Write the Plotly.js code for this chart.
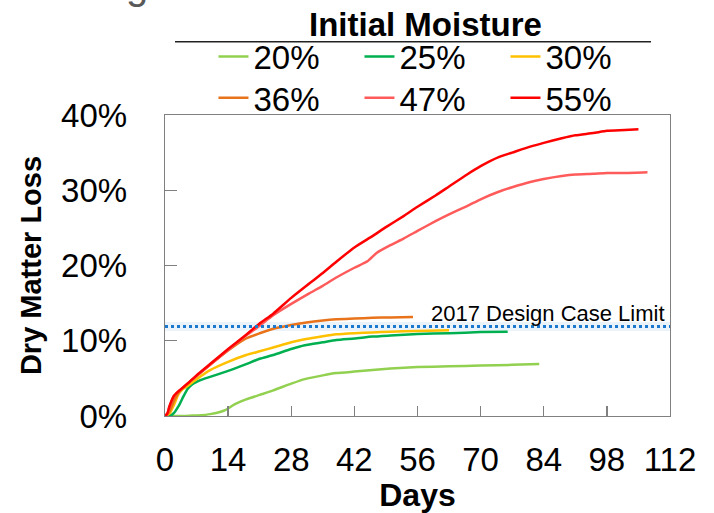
<!DOCTYPE html>
<html><head><meta charset="utf-8">
<script src="https://cdn.plot.ly/plotly-3.0.1.min.js"></script>
<style>html,body{margin:0;padding:0;background:#fff}#chart{width:714px;height:513px}</style>
</head><body><div id="chart"></div>
<script>
// ---- data (percent dry matter loss vs. days) ----
const seriesNames = ['20%', '25%', '30%', '36%', '47%', '55%'];
const seriesColors = ['#92D050', '#00B050', '#FFC000', '#E8731A', '#FF5B5B', '#FF0000'];

const days20 = [0, 2, 4, 6, 8, 10, 12, 13, 14, 15, 16, 18, 21, 24, 28, 31, 35, 38, 42, 46, 50, 56, 63, 70, 77, 83];
const dml20  = [0, 0, 0, 0.05, 0.1, 0.25, 0.5, 0.7, 1.0, 1.4, 1.7, 2.2, 2.8, 3.4, 4.3, 4.9, 5.4, 5.7, 5.9, 6.1, 6.3, 6.5, 6.6, 6.7, 6.8, 6.9];

const days25 = [0, 1, 2, 3, 4, 5, 6, 8, 10, 14, 18, 21, 24, 28, 31, 35, 38, 42, 46, 50, 56, 63, 70, 76];
const dml25  = [0, 0, 0.4, 1.3, 2.5, 3.6, 4.2, 4.8, 5.2, 6.0, 6.9, 7.6, 8.1, 8.9, 9.4, 9.8, 10.1, 10.3, 10.55, 10.7, 10.9, 11.0, 11.15, 11.2];

const days30 = [0, 1, 2, 3, 4, 5, 7, 10, 14, 18, 21, 24, 28, 31, 35, 38, 42, 46, 50, 56, 63];
const dml30  = [0, 0.3, 1.5, 2.9, 3.6, 4.0, 4.9, 6.1, 7.2, 8.1, 8.6, 9.1, 9.8, 10.2, 10.6, 10.85, 11.0, 11.1, 11.2, 11.3, 11.4];

const days36 = [0, 1, 2, 3, 5, 7, 10, 14, 18, 21, 24, 28, 31, 35, 38, 42, 46, 50, 55];
const dml36  = [0, 0.6, 2.0, 3.1, 4.3, 5.3, 6.8, 8.7, 10.3, 11.0, 11.6, 12.1, 12.4, 12.7, 12.85, 12.95, 13.05, 13.1, 13.15];

const days47 = [0, 0.5, 1, 2, 3, 5, 7, 10, 14, 18, 21, 24, 28, 32, 35, 38, 42, 45, 47, 50, 53, 56, 60, 63, 67, 70, 74, 77, 81, 84, 88, 91, 95, 98, 102, 107];
const dml47  = [0, 0.3, 1.3, 2.7, 3.3, 4.3, 5.3, 6.8, 8.8, 10.7, 12.0, 13.4, 14.9, 16.3, 17.3, 18.4, 19.7, 20.6, 21.7, 22.7, 23.6, 24.6, 25.9, 26.8, 27.9, 28.8, 29.8, 30.4, 31.1, 31.5, 31.9, 32.1, 32.2, 32.3, 32.3, 32.4];

const days55 = [0, 0.5, 1, 2, 3, 5, 7, 10, 14, 18, 21, 24, 28, 32, 35, 38, 42, 46, 49, 53, 56, 60, 63, 67, 70, 74, 77, 81, 84, 88, 91, 95, 98, 102, 105];
const dml55  = [0, 0.3, 1.3, 2.7, 3.3, 4.3, 5.4, 6.9, 8.9, 10.8, 12.3, 13.6, 15.7, 17.6, 19.0, 20.5, 22.4, 23.9, 25.1, 26.6, 27.8, 29.3, 30.5, 32.1, 33.2, 34.4, 35.0, 35.8, 36.3, 36.9, 37.3, 37.6, 37.9, 38.0, 38.1];

const xTickVals = [0, 14, 28, 42, 56, 70, 84, 98, 112];
const yTickVals = [0, 10, 20, 30, 40];
const yTickLabels = ['0%', '10%', '20%', '30%', '40%'];
const designLimit = 11.9;
const designLabel = '2017 Design Case Limit';
const legendTitle = 'Initial Moisture';

// ---- build ----
const allDays = [days20, days25, days30, days36, days47, days55];
const allDml = [dml20, dml25, dml30, dml36, dml47, dml55];
const FONT = 'Liberation Sans, Arial, Helvetica, sans-serif';

const traces = seriesNames.map((name, i) => ({
  type: 'scatter', mode: 'lines', name: name,
  x: allDays[i], y: allDml[i],
  line: {color: seriesColors[i], width: 2.5, shape: 'spline', smoothing: 0.5},
  legend: i < 3 ? 'legend' : 'legend2',
  hoverinfo: 'x+y+name'
}));

const legendCommon = {
  orientation: 'h', xanchor: 'left', yanchor: 'top',
  entrywidth: 101, entrywidthmode: 'pixels',
  font: {family: FONT, size: 33, color: '#000'},
  bgcolor: 'rgba(0,0,0,0)', borderwidth: 0, traceorder: 'normal'
};

const layout = {
  width: 714, height: 513,
  margin: {l: 165, r: 44, t: 115, b: 97, pad: 0},
  paper_bgcolor: '#fff', plot_bgcolor: '#fff',
  font: {family: FONT, color: '#000'},
  showlegend: true,
  legend: Object.assign({}, legendCommon, {x: 0.096, y: 1.287}),
  legend2: Object.assign({}, legendCommon, {x: 0.096, y: 1.150}),
  xaxis: {
    range: [0, 112], tickmode: 'array', tickvals: xTickVals,
    ticks: 'inside', ticklen: 10, tickwidth: 1.3, tickcolor: '#808080',
    showline: true, linecolor: '#808080', linewidth: 1.3, mirror: true,
    showgrid: false, zeroline: false,
    tickfont: {family: FONT, size: 33, color: '#000'},
    ticklabelstandoff: 14,
    title: {text: 'Days', font: {family: FONT, size: 32, weight: 'bold', color: '#000'}, standoff: 0}
  },
  yaxis: {
    range: [0, 40], tickmode: 'array', tickvals: yTickVals, ticktext: yTickLabels,
    ticks: 'inside', ticklen: 12, tickwidth: 1.3, tickcolor: '#808080',
    showline: true, linecolor: '#808080', linewidth: 1.3, mirror: true,
    showgrid: false, zeroline: false,
    tickfont: {family: FONT, size: 33, color: '#000'},
    ticklabelstandoff: 30,
    title: {text: 'Dry Matter Loss', font: {family: FONT, size: 29, weight: 'bold', color: '#000'}, standoff: 11}
  },
  shapes: [
    {type: 'line', xref: 'paper', yref: 'y', x0: 0, x1: 1, y0: designLimit, y1: designLimit,
     line: {color: 'rgba(91,155,213,0.13)', width: 9}, layer: 'below'},
    {type: 'line', xref: 'paper', yref: 'y', x0: 0, x1: 1, y0: designLimit, y1: designLimit,
     line: {color: '#1A78CF', width: 3, dash: 'dot'}},
    {type: 'line', xref: 'paper', yref: 'paper', x0: 0.0198, x1: 0.9624, y0: 1.2435, y1: 1.2435,
     line: {color: '#222', width: 1.5}}
  ],
  annotations: [
    {text: legendTitle, xref: 'paper', yref: 'paper', x: 0.515, y: 1.3010, xanchor: 'center', yanchor: 'middle',
     showarrow: false, font: {family: FONT, size: 33, weight: 'bold', color: '#000'}},
    {text: designLabel, xref: 'paper', yref: 'y', x: 0.9935, y: 13.6, xanchor: 'right', yanchor: 'middle',
     showarrow: false, font: {family: FONT, size: 22, color: '#000'}},
    {text: 'g', xref: 'paper', yref: 'paper', x: (136.5 - 165) / 505, y: 1.433, xanchor: 'center', yanchor: 'middle',
     showarrow: false, font: {family: FONT, size: 40, color: '#595959'}}
  ]
};

Plotly.newPlot('chart', traces, layout, {displayModeBar: false, staticPlot: true});
</script>
</body></html>
